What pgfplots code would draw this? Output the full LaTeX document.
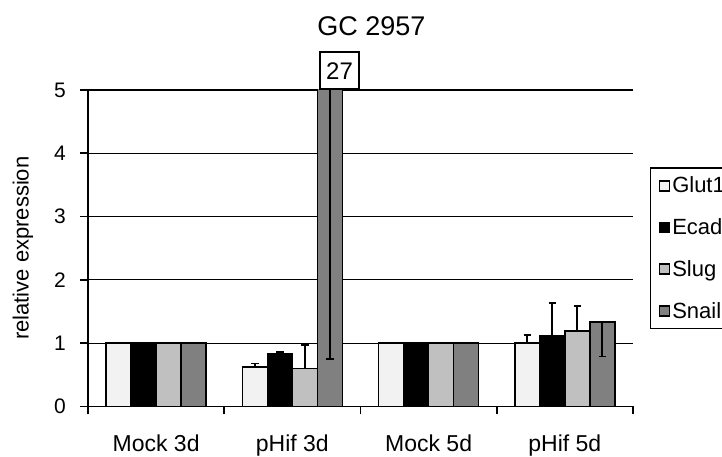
\documentclass[border=0pt]{standalone}
\usepackage{fontspec}
\setmainfont{Liberation Sans}
\usepackage{pgfplots}
\usepackage{pgfplotstable}
\pgfplotsset{compat=1.18}
\definecolor{cGlut}{HTML}{F2F2F2}
\definecolor{cSlug}{HTML}{C0C0C0}
\definecolor{cSnail}{HTML}{808080}

\pgfplotstableread{
x glut glute ecad ecade slug sluge snail snaile
0 1     0     1    0     1    0    1    0
1 0.627 0.053 0.83 0.036 0.60 0.37 27   26.25
2 1     0     1    0     1    0    1    0
3 1.0   0.135 1.11 0.52  1.19 0.40 1.34 0.55
}\data

\pgfplotsset{
  myerr/.style={error bars/.cd, y dir=#1, y explicit,
    error bar style={line width=1.8pt, black},
    error mark options={rotate=90, mark size=3.7pt, line width=1.8pt, black}},
}

\begin{document}
\begin{tikzpicture}[x=1pt,y=1pt]
\useasboundingbox (0,0) rectangle (722,457);
\clip (0,0) rectangle (722,457);
\begin{axis}[
  at={(88pt,50.5pt)}, anchor=south west,
  scale only axis, width=545pt, height=316.5pt,
  xmin=-0.5, xmax=3.5, ymin=0, ymax=5,
  ybar=0pt, bar width=25pt,
  axis x line*=bottom, axis y line*=left,
  axis line style={-, line width=1.6pt, black},
  ytick={0,1,2,3,4,5},
  ymajorgrids, grid style={black, line width=1.2pt},
  tick align=outside, major tick length=8pt,
  tick style={black, line width=1.6pt},
  /pgf/number format/assume math mode=true,
  yticklabel style={font=\fontsize{21}{25}\selectfont, inner sep=0pt, anchor=east, xshift=-14pt},
  xtick={-0.5,0.5,1.5,2.5,3.5}, xticklabels={},
  extra x ticks={0,1,2,3},
  extra x tick labels={Mock 3d,pHif 3d,Mock 5d,pHif 5d},
  extra x tick style={tick style={draw=none}, grid=none,
    xticklabel style={font=\fontsize{23}{27}\selectfont, anchor=base, yshift=-37.5pt, inner sep=0pt}},
  ylabel={relative expression},
  every axis y label/.style={at={(rel axis cs:0,0.5)}, xshift=-65pt, rotate=90, anchor=center, font=\fontsize{22}{26}\selectfont},
  legend entries={Glut1,Ecad,Slug,Snail},
  legend cell align=left,
  legend image code/.code={\draw[#1, line width=1.7pt] (0pt,-5pt) rectangle (10pt,5pt);},
  legend style={at={(1.031,0.7558)}, anchor=north west, draw=black, line width=1.3pt,
    font=\fontsize{22}{26}\selectfont, inner xsep=8pt, inner ysep=7pt, row sep=20.3pt,
    /tikz/every even column/.append style={column sep=5pt}},
]
\addplot[fill=cGlut, draw=black, line width=1.7pt, myerr=plus] table[x=x, y=glut, y error=glute] {\data};
\addplot[fill=black, draw=black, line width=1.7pt, myerr=plus] table[x=x, y=ecad, y error=ecade] {\data};
\addplot[fill=cSlug, draw=black, line width=1.7pt, myerr=plus] table[x=x, y=slug, y error=sluge] {\data};
\addplot[fill=cSnail, draw=black, line width=1.7pt, myerr=minus] table[x=x, y=snail, y error=snaile] {\data};
\coordinate (lab27) at (axis cs:1.346,5);
\end{axis}
\node[draw=black, line width=1.6pt, fill=white, anchor=south, minimum width=39pt, minimum height=37pt, inner sep=0pt,
  font=\fontsize{24}{28}\selectfont] at (lab27) {27};
\node[anchor=base, font=\fontsize{27}{32}\selectfont] at (371.5,421) {GC 2957};
\end{tikzpicture}
\end{document}
